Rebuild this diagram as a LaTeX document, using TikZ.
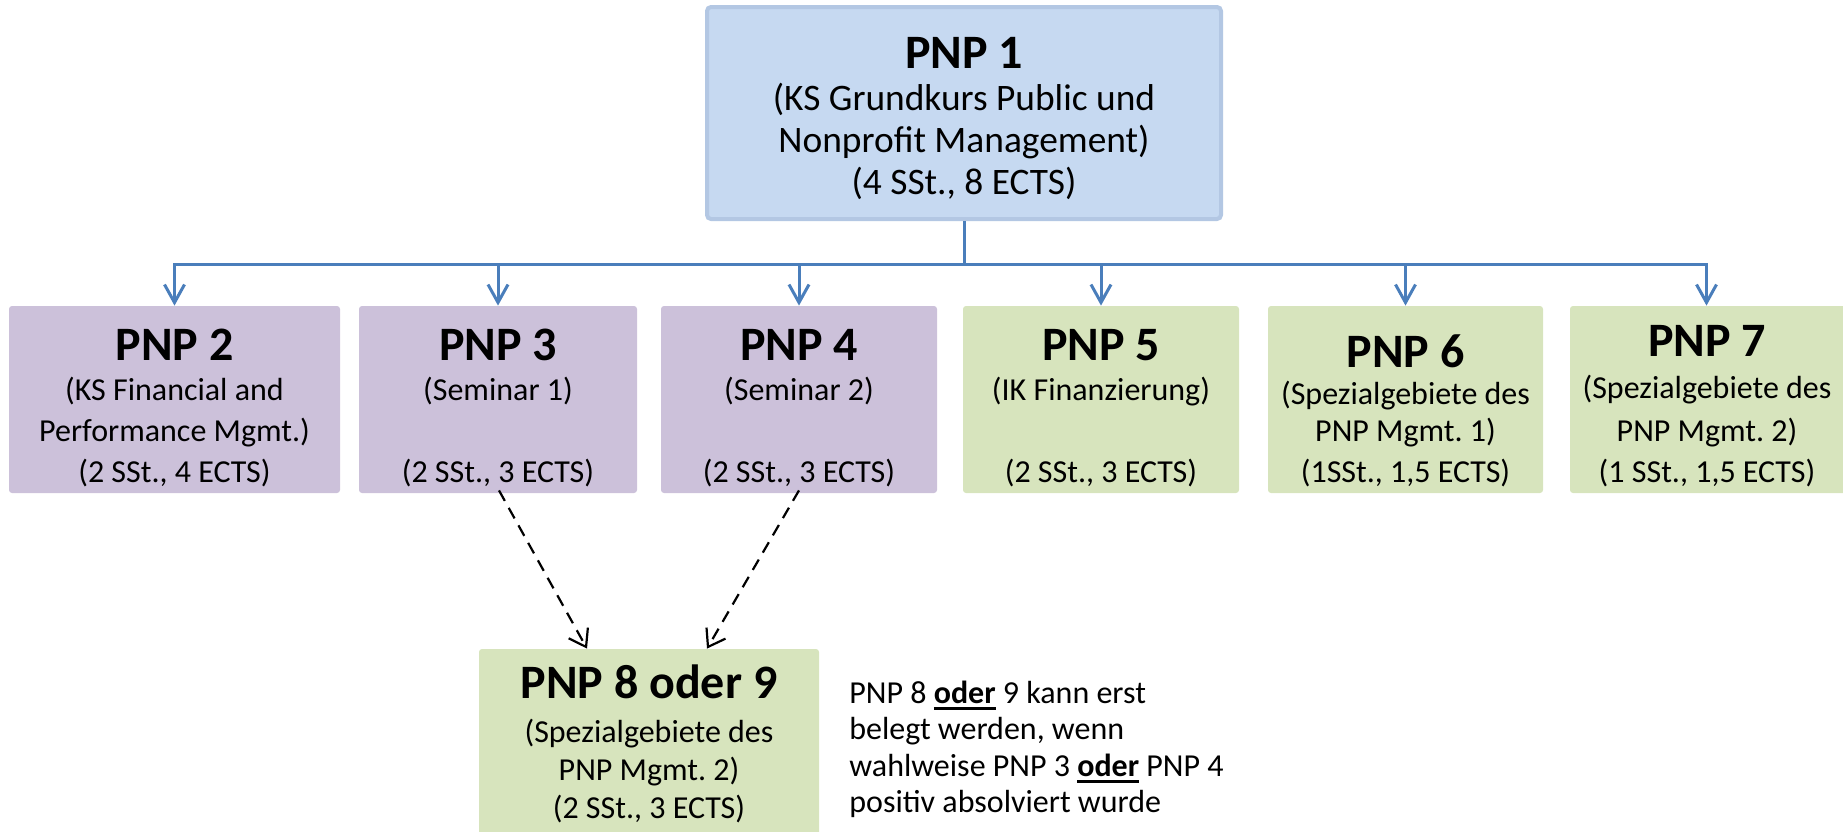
\documentclass[tikz,border=0pt]{standalone}
\usepackage{fontspec}
\setmainfont{Carlito}
\usetikzlibrary{arrows.meta,calc,fit}
\definecolor{pblue}{HTML}{C6D9F1}
\definecolor{pblueb}{HTML}{B3C7E3}
\definecolor{ppurp}{HTML}{CCC1DA}
\definecolor{pgreen}{HTML}{D7E4BD}
\definecolor{pline}{HTML}{4A7EBB}
\newcommand\myul[1]{\setbox0\hbox{#1}\rlap{\rule[-3.3pt]{\wd0}{1.5pt}}\box0\relax}
\frenchspacing
\begin{document}
\begin{tikzpicture}[x=0.5pt,y=-0.5pt,
  ln/.style={inner sep=0pt, anchor=base},
  ttl/.style={ln, font=\fontsize{24}{28}\selectfont\bfseries},
  bdy/.style={ln, font=\fontsize{16}{19}\selectfont},
  bdyA/.style={ln, font=\fontsize{18.7}{22}\selectfont},
  note/.style={inner sep=0pt, anchor=base west, font=\fontsize{16}{19}\selectfont},
  rbox/.style={rounded corners=1.5pt, inner sep=0pt},
  purp/.style={rbox, fill=ppurp},
  grn/.style={rbox, fill=pgreen},
  conn/.style={draw=pline, line width=1.5pt, -{Straight Barb[length=9pt, width=10pt]}},
  dsh/.style={draw=black, line width=1.1pt, dash pattern=on 6pt off 4pt, -{Straight Barb[length=8pt, width=11pt]}}]
\useasboundingbox (0,0) rectangle (1843,831);
\clip (0,0) rectangle (1843,831);

% boxes
\node[fit={(707,7) (1221,219)}, inner sep=0pt, fill=pblue, draw=pblueb, line width=2pt, rounded corners=2pt] (p1) {};
\node[purp, fit={(9,306) (340,493)}] (p2) {};
\node[purp, fit={(359,306) (637,493)}] (p3) {};
\node[purp, fit={(661,306) (937,493)}] (p4) {};
\node[grn, fit={(963,306) (1239,493)}] (p5) {};
\node[grn, fit={(1268,306) (1543,493)}] (p6) {};
\node[grn, fit={(1570,306) (1848,493)}] (p7) {};
\node[grn, fit={(479,649) (819,845)}] (p8) {};

% PNP 1 text
\node[ttl] (p1a) at (964,68) {PNP 1};
\node[bdyA] (p1b) at (964,110) {(KS Grundkurs Public und};
\node[bdyA] (p1c) at (964,152) {Nonprofit Management)};
\node[bdyA] (p1d) at (964,194) {(4 SSt., 8 ECTS)};

% PNP 2
\node[ttl] (p2a) at (174.5,360) {PNP 2};
\node[bdy] (p2b) at (174.5,400) {(KS Financial and};
\node[bdy] (p2c) at (174.5,441) {Performance Mgmt.)};
\node[bdy] (p2d) at (174.5,482) {(2 SSt., 4 ECTS)};
% PNP 3
\node[ttl] (p3a) at (498,360) {PNP 3};
\node[bdy] (p3b) at (498,400) {(Seminar 1)};
\node[bdy] (p3d) at (498,482) {(2 SSt., 3 ECTS)};
% PNP 4
\node[ttl] (p4a) at (799,360) {PNP 4};
\node[bdy] (p4b) at (799,400) {(Seminar 2)};
\node[bdy] (p4d) at (799,482) {(2 SSt., 3 ECTS)};
% PNP 5
\node[ttl] (p5a) at (1101,360) {PNP 5};
\node[bdy] (p5b) at (1101,400) {(IK Finanzierung)};
\node[bdy] (p5d) at (1101,482) {(2 SSt., 3 ECTS)};
% PNP 6
\node[ttl] (p6a) at (1405.5,367) {PNP 6};
\node[bdy] (p6b) at (1405.5,404) {(Spezialgebiete des};
\node[bdy] (p6c) at (1405.5,441) {PNP Mgmt. 1)};
\node[bdy] (p6d) at (1405.5,482) {(1SSt., 1,5 ECTS)};
% PNP 7
\node[ttl] (p7a) at (1707,356) {PNP 7};
\node[bdy] (p7b) at (1707,398) {(Spezialgebiete des};
\node[bdy] (p7c) at (1707,441) {PNP Mgmt. 2)};
\node[bdy] (p7d) at (1707,482) {(1 SSt., 1,5 ECTS)};
% PNP 8
\node[ttl] (p8a) at (649,698) {PNP 8 oder 9};
\node[bdy] (p8b) at (649,742) {(Spezialgebiete des};
\node[bdy] (p8c) at (649,780) {PNP Mgmt. 2)};
\node[bdy] (p8d) at (649,818) {(2 SSt., 3 ECTS)};

% note
\node[note] (n1) at (849,703) {PNP 8 \myul{\textbf{oder}} 9 kann erst};
\node[note] (n2) at (849,739) {belegt werden, wenn};
\node[note] (n3) at (849,776) {wahlweise PNP 3 \myul{\textbf{oder}} PNP 4};
\node[note] (n4) at (849,812) {positiv absolviert wurde};

% connectors
\coordinate (bus) at (965,264);
\draw[conn] (p1.south) -- (p1.south |- bus) -| (p2.north);
\draw[conn] (p1.south) -- (p1.south |- bus) -| (p3.north);
\draw[conn] (p1.south) -- (p1.south |- bus) -| (p4.north);
\draw[conn] (p1.south) -- (p1.south |- bus) -| (p5.north);
\draw[conn] (p1.south) -- (p1.south |- bus) -| (p6.north);
\draw[conn] (p1.south) -- (p1.south |- bus) -| ($(p7.north)+(-2.5,0)$);

\draw[dsh] ($(p3.south)+(1,-3)$) -- ($(p8.north)+(-62,0)$);
\draw[dsh] ($(p4.south)+(0,-3)$) -- ($(p8.north)+(58,0)$);
\end{tikzpicture}
\end{document}
